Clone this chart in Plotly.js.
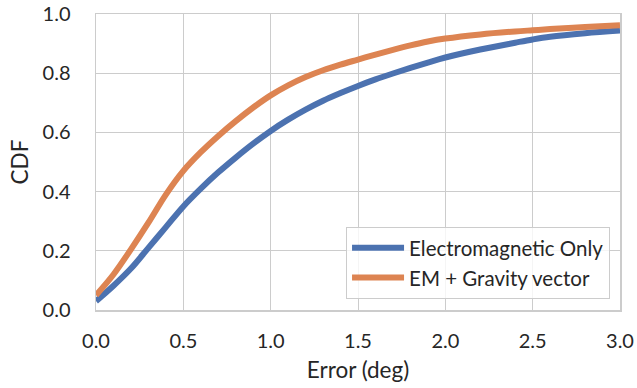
<!DOCTYPE html>
<html>
<head>
<meta charset="utf-8">
<script src="https://cdn.plot.ly/plotly-3.0.1.min.js"></script>
<style>html,body{margin:0;padding:0;background:#fff;}#chart{width:637px;height:388px;}</style>
</head>
<body>
<div id="chart"></div>
<script>
const errorDeg = [0, 0.1, 0.2, 0.3, 0.4, 0.5, 0.6, 0.7, 0.8, 0.9, 1.0, 1.1, 1.2, 1.3, 1.4, 1.5, 1.6, 1.7, 1.8, 1.9, 2.0, 2.2, 2.4, 2.5, 2.6, 2.8, 3.0];
const emOnly = [0.03, 0.082, 0.14, 0.21, 0.28, 0.35, 0.41, 0.465, 0.515, 0.562, 0.605, 0.643, 0.677, 0.707, 0.733, 0.757, 0.779, 0.799, 0.818, 0.836, 0.853, 0.88, 0.903, 0.914, 0.923, 0.935, 0.944];
const emGravity = [0.05, 0.12, 0.205, 0.295, 0.39, 0.47, 0.533, 0.588, 0.638, 0.684, 0.725, 0.759, 0.787, 0.81, 0.829, 0.846, 0.863, 0.879, 0.894, 0.907, 0.917, 0.931, 0.941, 0.945, 0.949, 0.956, 0.962];
const seriesNames = ["Electromagnetic Only", "EM + Gravity vector"];
const xTicks = [0, 0.5, 1.0, 1.5, 2.0, 2.5, 3.0];
const yTicks = [0, 0.2, 0.4, 0.6, 0.8, 1.0];

const fam = "Lato, 'DejaVu Sans', sans-serif";
const font = {family: fam, size: 20, color: "#262626"};
const legendFont = {family: fam, size: 20.5, color: "#262626"};
const titleFont = {family: fam, size: 22.5, color: "#262626"};
const traces = [
  {x: errorDeg, y: emOnly, name: seriesNames[0], mode: "lines",
   line: {color: "#4c72b0", width: 6, shape: "spline", smoothing: 1}},
  {x: errorDeg, y: emGravity, name: seriesNames[1], mode: "lines",
   line: {color: "#dd8452", width: 6, shape: "spline", smoothing: 1}}
];
const layout = {
  width: 637, height: 388,
  margin: {l: 96, r: 17, t: 14, b: 78},
  paper_bgcolor: "#fff", plot_bgcolor: "#fff",
  font: font,
  showlegend: true,
  legend: {x: 0.981, y: 0.037, xanchor: "right", yanchor: "bottom",
    bgcolor: "rgba(255,255,255,0.8)", bordercolor: "#cccccc", borderwidth: 1,
    font: legendFont, tracegroupgap: 0, itemwidth: 52},
  xaxis: {range: [0, 3], tickvals: xTicks, ticktext: xTicks.map(v => v.toFixed(1)),
    showgrid: true, gridcolor: "#cccccc", gridwidth: 1,
    showline: true, mirror: true, linecolor: "#cccccc", linewidth: 1.5,
    zeroline: false, ticks: "", ticklabelstandoff: 12,
    title: {text: "Error (deg)", font: titleFont, standoff: 11}},
  yaxis: {range: [0, 1], tickvals: yTicks, ticktext: yTicks.map(v => v.toFixed(1)),
    showgrid: true, gridcolor: "#cccccc", gridwidth: 1,
    showline: true, mirror: true, linecolor: "#cccccc", linewidth: 1.5,
    zeroline: false, ticks: "", ticklabelstandoff: 20,
    title: {text: "CDF", font: titleFont, standoff: 7}}
};
Plotly.newPlot("chart", traces, layout, {displayModeBar: false, staticPlot: true});
</script>
</body>
</html>
